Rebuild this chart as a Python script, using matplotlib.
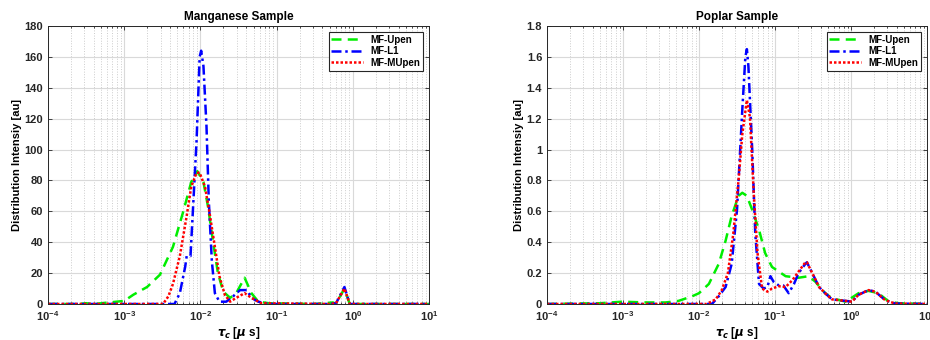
import numpy as np
import matplotlib
matplotlib.use("Agg")
import matplotlib.pyplot as plt
from matplotlib.ticker import LogLocator, FixedLocator

plt.rcParams['font.family'] = ['Liberation Sans', 'DejaVu Sans']
plt.rcParams['font.weight'] = 'bold'
plt.rcParams['mathtext.fontset'] = 'dejavusans'

# ---- Manganese sample (log10 tau, intensity) ----
mn_upen_logx = [-4, -3.6, -3.5, -3.4, -3.0, -2.88, -2.7, -2.53, -2.36, -2.23, -2.12, -2.04,
                -1.96, -1.9, -1.83, -1.77, -1.7, -1.61, -1.53, -1.42, -1.33, -1.24, -1.1,
                -0.5, -0.26, -0.22, -0.11, -0.04, 1]
mn_upen_y = [0, 0, 0.5, 0, 2, 6, 11, 19, 37, 59, 79, 86,
             79, 63, 39, 20, 8, 4, 7, 17, 7, 1.5, 0.5,
             0, 1, 0, 10, 0, 0]

mn_l1_logx = [-4, -2.34, -2.27, -2.2, -2.18, -2.13, -2.1, -2.05, -2.01, -1.99, -1.96, -1.92,
              -1.89, -1.85, -1.81, -1.75, -1.66, -1.57, -1.48, -1.39, -1.33, -1.24, -1.1,
              -0.3, -0.22, -0.11, -0.04, 1]
mn_l1_y = [0, 0, 7, 24, 31, 31, 59, 106, 160, 164, 154, 115,
           67, 28, 7, 1.5, 1.5, 5, 9, 9, 4, 1.5, 0,
           0, 0.5, 11, 0, 0]

mn_mu_logx = [-4, -2.49, -2.42, -2.36, -2.27, -2.18, -2.12, -2.05, -2.01, -1.94, -1.88,
              -1.81, -1.75, -1.68, -1.61, -1.53, -1.42, -1.33, -1.2,
              -0.3, -0.22, -0.11, -0.04, 1]
mn_mu_y = [0, 0, 5, 13, 31, 57, 76, 85, 85, 76, 59,
           37, 18, 6, 1.5, 4, 7, 4, 0.5,
           0, 0.5, 10, 0, 0]

# ---- Poplar sample ----
po_upen_logx = [-4, -3.3, -3.01, -2.7, -2.44, -2.27, -2.09, -2.0, -1.87, -1.74, -1.65, -1.57,
                -1.48, -1.43, -1.37, -1.3, -1.21, -1.13, -1.04, -0.86, -0.69, -0.56, -0.47,
                -0.34, -0.25, -0.07, 0.1, 0.23, 0.36, 0.5, 0.63, 1]
po_upen_y = [0, 0.005, 0.015, 0.01, 0.01, 0.02, 0.05, 0.07, 0.13, 0.26, 0.41, 0.57,
             0.7, 0.72, 0.7, 0.61, 0.48, 0.33, 0.24, 0.18, 0.17, 0.18, 0.145,
             0.07, 0.037, 0.015, 0.07, 0.085, 0.07, 0.015, 0.005, 0]

po_l1_logx = [-4, -1.83, -1.74, -1.65, -1.57, -1.5, -1.43, -1.39, -1.37, -1.35, -1.3, -1.26,
              -1.21, -1.15, -1.1, -1.06, -1.02, -0.95, -0.89, -0.82, -0.75, -0.69, -0.6,
              -0.58, -0.51, -0.42, -0.34, -0.25, -0.07, 0.01, 0.1, 0.23, 0.32, 0.45, 0.58, 1]
po_l1_y = [0, 0, 0.05, 0.11, 0.26, 0.61, 1.26, 1.6, 1.65, 1.54, 1.0, 0.46,
           0.13, 0.1, 0.11, 0.18, 0.145, 0.12, 0.12, 0.07, 0.13, 0.2, 0.26,
           0.27, 0.2, 0.11, 0.07, 0.03, 0.02, 0.015, 0.06, 0.09, 0.08, 0.025, 0.003, 0]

po_mu_logx = [-4, -1.9, -1.78, -1.7, -1.62, -1.55, -1.48, -1.43, -1.37, -1.33, -1.28, -1.23,
              -1.17, -1.1, -1.04, -0.95, -0.86, -0.77, -0.69, -0.6, -0.58, -0.51, -0.42,
              -0.34, -0.25, -0.07, 0.01, 0.1, 0.23, 0.32, 0.45, 0.58, 1]
po_mu_y = [0, 0, 0.03, 0.09, 0.2, 0.45, 0.8, 1.1, 1.32, 1.21, 0.72, 0.33,
           0.1, 0.08, 0.1, 0.115, 0.11, 0.155, 0.21, 0.27, 0.27, 0.2, 0.11,
           0.07, 0.03, 0.02, 0.015, 0.06, 0.09, 0.08, 0.025, 0.003, 0]

labels = ['MF-Upen', 'MF-L1', 'MF-MUpen']

fig = plt.figure(figsize=(9.3, 3.4), dpi=100)
ax1 = fig.add_axes([48/930, 36/340, 381/930, 278/340])
ax2 = fig.add_axes([547/930, 36/340, 380/930, 278/340])

def setup(ax, title, ymax, yticks, yticklabels):
    ax.set_xscale('log')
    ax.set_xlim(1e-4, 1e1)
    ax.set_ylim(0, ymax)
    ax.set_yticks(yticks)
    ax.set_yticklabels(yticklabels)
    ax.xaxis.set_major_locator(LogLocator(base=10, numticks=10))
    ax.xaxis.set_minor_locator(LogLocator(base=10, subs=np.arange(2, 10), numticks=100))
    ax.grid(True, which='major', color='#d9d9d9', linewidth=0.8)
    ax.grid(True, which='minor', axis='x', color='#cccccc', linestyle=':', linewidth=0.7)
    ax.set_axisbelow(True)
    ax.tick_params(direction='in', which='both', top=True, right=True, labelsize=8,
                   length=3, width=0.6, colors='#262626')
    ax.tick_params(which='minor', length=1.5)
    for lab in ax.get_xticklabels() + ax.get_yticklabels():
        lab.set_fontweight('bold')
    for s in ax.spines.values():
        s.set_color('#262626')
        s.set_linewidth(0.7)
    ax.set_title(title, fontsize=8.5, fontweight='bold', pad=4)
    ax.set_xlabel(r'$\tau_c$ [$\mu$ s]', fontsize=8.5, fontweight='bold', labelpad=2)
    ax.set_ylabel('Distribution Intensiy [au]', fontsize=8, fontweight='bold', labelpad=2)

def draw(ax, data):
    styles = [dict(color='#00ee00', linestyle=(0, (4, 2.5))),
              dict(color='#0000ff', linestyle=(0, (4, 1.5, 1, 1.5))),
              dict(color='#ff0000', linestyle=(0, (1, 0.8)))]
    for (lx, y), lab, st in zip(data, labels, styles):
        ax.plot(10 ** np.array(lx), y, linewidth=1.8, label=lab, **st)
    leg = ax.legend(loc='upper right', fontsize=7, prop={'weight': 'bold', 'size': 7},
                    frameon=True, fancybox=False, edgecolor='#262626', framealpha=1,
                    handlelength=3.2, borderpad=0.3, labelspacing=0.15, borderaxespad=0.6)
    leg.get_frame().set_linewidth(0.8)

setup(ax1, 'Manganese Sample', 180, list(range(0, 181, 20)), [str(v) for v in range(0, 181, 20)])
draw(ax1, [(mn_upen_logx, mn_upen_y), (mn_l1_logx, mn_l1_y), (mn_mu_logx, mn_mu_y)])

pticks = [0, 0.2, 0.4, 0.6, 0.8, 1.0, 1.2, 1.4, 1.6, 1.8]
setup(ax2, 'Poplar Sample', 1.8, pticks, ['0', '0.2', '0.4', '0.6', '0.8', '1', '1.2', '1.4', '1.6', '1.8'])
draw(ax2, [(po_upen_logx, po_upen_y), (po_l1_logx, po_l1_y), (po_mu_logx, po_mu_y)])

fig.savefig('out.png', dpi=100)
